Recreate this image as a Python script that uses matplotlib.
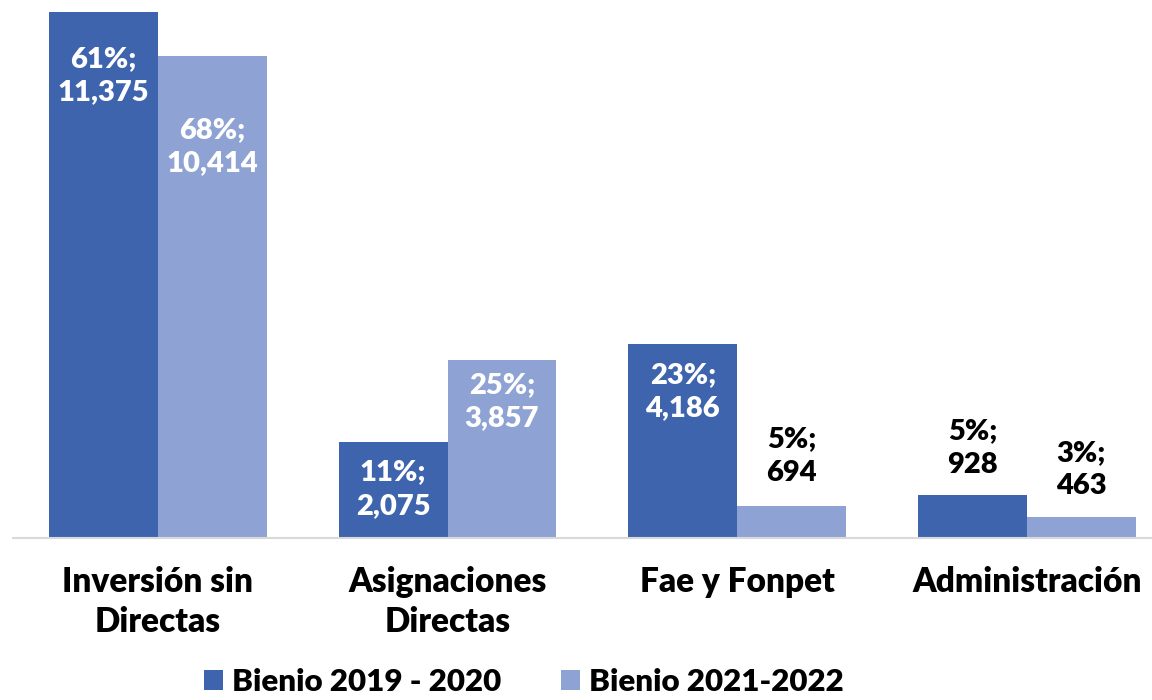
import numpy as np
import matplotlib.pyplot as plt

plt.rcParams['font.family'] = ['Lato', 'DejaVu Sans']
plt.rcParams['font.weight'] = 'heavy'

categories = ['Inversión sin\nDirectas', 'Asignaciones\nDirectas', 'Fae y Fonpet', 'Administración']
series_names = ['Bienio 2019 - 2020', 'Bienio 2021-2022']
values_1920 = [11375, 2075, 4186, 928]
values_2122 = [10414, 3857, 694, 463]
pct_1920 = [61, 11, 23, 5]
pct_2122 = [68, 25, 5, 3]

dark = '#3E64AE'
light = '#8EA3D4'

fig = plt.figure(figsize=(11.52, 7), dpi=100)
ax = fig.add_axes([13 / 1152, (700 - 538) / 700, 1 - 13 / 1152, (538 - 12) / 700])

x = np.arange(len(categories))
w = 0.376
b1 = ax.bar(x - w / 2, values_1920, w, color=dark, label=series_names[0])
b2 = ax.bar(x + w / 2, values_2122, w, color=light, label=series_names[1])

ax.set_xlim(-0.5, -0.5 + (1152 - 13) / 289.7)
ax.set_ylim(0, max(values_1920 + values_2122))

# label offsets in points from bar top (negative = inside)
off1 = [-46, -34, -34, 34]
off2 = [-65, -30, 36, 34]


def fmt(p, v):
    return f'{p}%;\n{v:,}'


for bars, vals, pcts, offs in [(b1, values_1920, pct_1920, off1), (b2, values_2122, pct_2122, off2)]:
    for bar, v, p, o in zip(bars, vals, pcts, offs):
        col = 'white' if o < 0 else 'black'
        ax.annotate(fmt(p, v), (bar.get_x() + bar.get_width() / 2, v),
                    xytext=(0, o), textcoords='offset points',
                    ha='center', va='center', fontsize=21, fontweight='heavy',
                    color=col, linespacing=1.35)

for s in ['top', 'right', 'left']:
    ax.spines[s].set_visible(False)
ax.spines['bottom'].set_color('#D9D9D9')
ax.spines['bottom'].set_linewidth(1.5)
ax.set_yticks([])
ax.set_xticks(x)
ax.set_xticklabels(categories, fontsize=24, fontweight='heavy', linespacing=1.3)
ax.tick_params(axis='x', length=0, pad=20)

fig.legend(loc='center', bbox_to_anchor=(524 / 1152, 18 / 700), ncol=2, frameon=False,
           handlelength=0.6, handleheight=0.6, handletextpad=0.3,
           columnspacing=1.9, prop={'weight': 'heavy', 'size': 22.5})

fig.savefig('out.png', dpi=100)
